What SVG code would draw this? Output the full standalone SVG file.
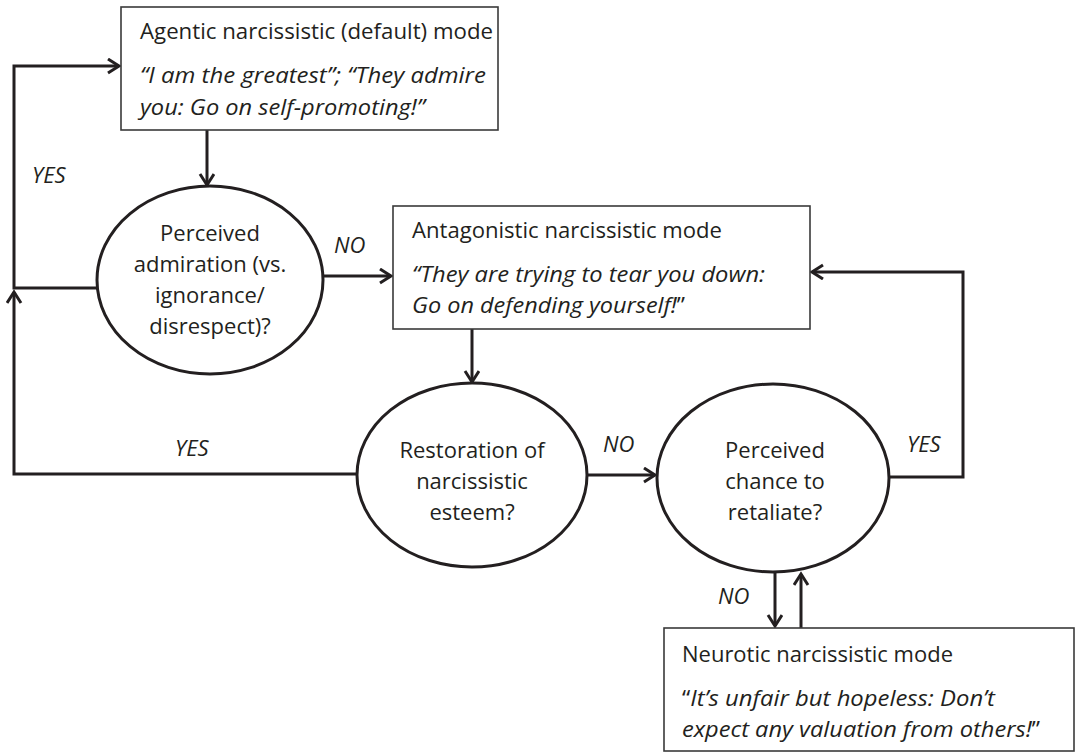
<svg xmlns="http://www.w3.org/2000/svg" width="1076" height="753" viewBox="0 0 1076 753">
<style>
text{font-family:"Open Sans","Noto Sans","DejaVu Sans",sans-serif;font-size:22px;fill:#231f20}
.it{font-style:italic}
.up{font-style:normal}
.c{text-anchor:middle}
.box{fill:#fff;stroke:#3a3a3a;stroke-width:1.6}
.ell{fill:#fff;stroke:#231f20;stroke-width:3}
.con{fill:none;stroke:#231f20;stroke-width:3}
</style>
<defs>
<marker id="ah" markerUnits="userSpaceOnUse" markerWidth="20" markerHeight="20" refX="12" refY="8" orient="auto">
<path d="M1,1 L12,8 L1,15" fill="none" stroke="#231f20" stroke-width="3"/>
</marker>
</defs>
<rect width="1076" height="753" fill="#fff"/>
<g id="connectors">
<path class="con" d="M97,288 H14 V66 H119" marker-end="url(#ah)"/>
<path class="con" d="M358,474 H14 V292" marker-end="url(#ah)"/>
<path class="con" d="M207,130 V185" marker-end="url(#ah)"/>
<path class="con" d="M323,276 H391" marker-end="url(#ah)"/>
<path class="con" d="M472,329 V382" marker-end="url(#ah)"/>
<path class="con" d="M587,475 H655" marker-end="url(#ah)"/>
<path class="con" d="M889,477 H963 V272 H812" marker-end="url(#ah)"/>
<path class="con" d="M775,572 V626" marker-end="url(#ah)"/>
<path class="con" d="M801,628 V574" marker-end="url(#ah)"/>
<text class="it" x="32" y="183">YES</text>
<text class="it" x="175" y="456">YES</text>
<text class="it" x="334" y="253">NO</text>
<text class="it" x="603" y="452">NO</text>
<text class="it" x="907" y="452">YES</text>
<text class="it" x="718" y="604">NO</text>
</g>
<g id="agentic">
<rect class="box" x="121" y="7" width="377" height="123"/>
<text x="140" y="39" textLength="353" lengthAdjust="spacingAndGlyphs">Agentic narcissistic (default) mode</text>
<text class="it" x="140" y="83" textLength="346" lengthAdjust="spacingAndGlyphs">“I am the greatest”; “They admire</text>
<text class="it" x="140" y="115" textLength="285" lengthAdjust="spacingAndGlyphs">you: Go on self-promoting!”</text>
</g>
<g id="admiration">
<ellipse class="ell" cx="210" cy="280" rx="113" ry="94"/>
<text class="c" x="210" y="241">Perceived</text>
<text class="c" x="210" y="272">admiration (vs.</text>
<text class="c" x="210" y="303">ignorance/</text>
<text class="c" x="210" y="334">disrespect)?</text>
</g>
<g id="antagonistic">
<rect class="box" x="393" y="206" width="417" height="123"/>
<text x="412" y="238" textLength="310" lengthAdjust="spacingAndGlyphs">Antagonistic narcissistic mode</text>
<text class="it" x="412" y="282" textLength="353" lengthAdjust="spacingAndGlyphs">“They are trying to tear you down:</text>
<text class="it" x="412" y="313" textLength="273" lengthAdjust="spacingAndGlyphs">Go on defending yourself!<tspan class="up">”</tspan></text>
</g>
<g id="restoration">
<ellipse class="ell" cx="472" cy="475" rx="115" ry="92"/>
<text class="c" x="472" y="458">Restoration of</text>
<text class="c" x="472" y="489">narcissistic</text>
<text class="c" x="472" y="520">esteem?</text>
</g>
<g id="retaliate">
<ellipse class="ell" cx="773" cy="478" rx="116" ry="94"/>
<text class="c" x="775" y="458">Perceived</text>
<text class="c" x="775" y="489">chance to</text>
<text class="c" x="775" y="520">retaliate?</text>
</g>
<g id="neurotic">
<rect class="box" x="664" y="628" width="410" height="123"/>
<text x="682" y="662" textLength="271" lengthAdjust="spacingAndGlyphs">Neurotic narcissistic mode</text>
<text class="it" x="682" y="706" textLength="313" lengthAdjust="spacingAndGlyphs"><tspan class="up">“</tspan>It’s unfair but hopeless: Don’t</text>
<text class="it" x="682" y="737" textLength="358" lengthAdjust="spacingAndGlyphs">expect any valuation from others!<tspan class="up">”</tspan></text>
</g>
</svg>
